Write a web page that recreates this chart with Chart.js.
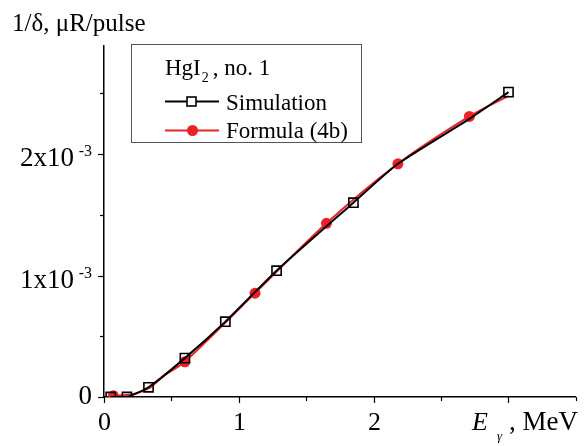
<!DOCTYPE html>
<html>
<head>
<meta charset="utf-8">
<script src="https://cdn.jsdelivr.net/npm/chart.js@4/dist/chart.umd.min.js"></script>
<style>
  html, body { margin: 0; background: #fff; }
  #wrap { width: 584px; height: 446px; position: relative; }
</style>
</head>
<body>
<div id="wrap"><canvas id="chart"></canvas></div>
<script>
// data (energy in MeV, 1/delta in uR/pulse)
const simEnergy = [0.05, 0.17, 0.33, 0.60, 0.90, 1.28, 1.85, 2.18, 2.71, 3.00];
const simValue = [0, 0, 0.08e-3, 0.32e-3, 0.62e-3, 1.04e-3, 1.60e-3, 1.92e-3, 2.29e-3, 2.51e-3];
const simMarker = [true, true, true, true, true, true, true, false, false, true];

const formulaEnergy = [0.07, 0.20, 0.33, 0.45, 0.60, 1.12, 1.65, 2.18, 2.71, 3.00];
const formulaValue = [0.01e-3, 0.02e-3, 0.07e-3, 0.18e-3, 0.29e-3, 0.855e-3, 1.43e-3, 1.92e-3, 2.31e-3, 2.48e-3];
const formulaMarker = [true, false, false, false, true, true, true, true, true, false];

const xTickValues = [0, 0.5, 1, 1.5, 2, 2.5, 3, 3.5];
const xTickLabels = ["0", "", "1", "", "2", "", "", ""];
const yTickValues = [0, 0.5e-3, 1e-3, 1.5e-3, 2e-3, 2.5e-3];
const yTickLabels = ["0", "", "1x10", "", "2x10", ""];
const yTickExponent = ["", "", "-3", "", "-3", ""];

const RED = "#ee1f26";
const SERIF = '"Liberation Serif", "Times New Roman", serif';

const toPoints = (xs, ys) => xs.map((x, i) => ({ x: x, y: ys[i] }));

// ticks, labels, axis titles and the framed legend
const decorations = {
  id: "decorations",
  afterDraw(chart) {
    const ctx = chart.ctx;
    const xs = chart.scales.x;
    const ys = chart.scales.y;
    const area = chart.chartArea;
    ctx.save();
    ctx.strokeStyle = "#000";
    ctx.lineWidth = 1.2;
    ctx.fillStyle = "#000";

    xTickValues.forEach((v, i) => {
      const px = Math.round(xs.getPixelForValue(v)) + 0.5;
      const len = xTickLabels[i] !== "" || v === 3 ? 6 : 4;
      ctx.beginPath();
      ctx.moveTo(px, area.bottom);
      ctx.lineTo(px, area.bottom + len);
      ctx.stroke();
      if (xTickLabels[i]) {
        ctx.font = "26px " + SERIF;
        ctx.textAlign = "center";
        ctx.textBaseline = "alphabetic";
        ctx.fillText(xTickLabels[i], px, 430);
      }
    });

    yTickValues.forEach((v, i) => {
      const py = Math.round(ys.getPixelForValue(v)) + 0.5;
      const len = yTickLabels[i] !== "" ? 6 : 4;
      ctx.beginPath();
      ctx.moveTo(area.left - len, py);
      ctx.lineTo(area.left, py);
      ctx.stroke();
      if (yTickLabels[i]) {
        ctx.textBaseline = "alphabetic";
        ctx.textAlign = "right";
        if (yTickExponent[i]) {
          ctx.font = "16px " + SERIF;
          ctx.fillText(yTickExponent[i], 92, py + 1);
          ctx.font = "27px " + SERIF;
          ctx.fillText(yTickLabels[i], 74, py + 11);
        } else {
          ctx.font = "27px " + SERIF;
          ctx.fillText(yTickLabels[i], 92, py + 6);
        }
      }
    });

    // axis titles
    ctx.textAlign = "left";
    ctx.font = "25px " + SERIF;
    ctx.fillText("1/\u03b4, \u03bcR/pulse", 12, 31);

    ctx.font = "italic 26px " + SERIF;
    ctx.fillText("E", 472, 430);
    ctx.font = "italic 13px " + SERIF;
    ctx.fillText("\u03b3", 497, 440);
    ctx.font = "27px " + SERIF;
    ctx.fillText(", MeV", 509, 430);

    // legend box
    ctx.strokeStyle = "#555";
    ctx.lineWidth = 1;
    ctx.strokeRect(131.5, 44.5, 230, 98);

    ctx.fillStyle = "#000";
    ctx.font = "23px " + SERIF;
    ctx.fillText("HgI", 165, 75);
    const hgW = ctx.measureText("HgI").width;
    ctx.font = "14px " + SERIF;
    ctx.fillText("2", 165 + hgW + 1, 82);
    ctx.font = "23px " + SERIF;
    ctx.fillText(", no. 1", 165 + hgW + 12, 75);

    // simulation entry
    ctx.strokeStyle = "#000";
    ctx.lineWidth = 2;
    ctx.beginPath();
    ctx.moveTo(165, 101.5);
    ctx.lineTo(219, 101.5);
    ctx.stroke();
    ctx.fillStyle = "#fff";
    ctx.fillRect(187, 97, 9, 9);
    ctx.lineWidth = 1.6;
    ctx.strokeRect(187, 97, 9, 9);
    ctx.fillStyle = "#000";
    ctx.fillText("Simulation", 226, 110);

    // formula entry
    ctx.strokeStyle = RED;
    ctx.lineWidth = 2;
    ctx.beginPath();
    ctx.moveTo(165, 130.5);
    ctx.lineTo(219, 130.5);
    ctx.stroke();
    ctx.fillStyle = RED;
    ctx.beginPath();
    ctx.arc(192.5, 130.5, 5.5, 0, Math.PI * 2);
    ctx.fill();
    ctx.fillStyle = "#000";
    ctx.fillText("Formula (4b)", 226, 138);

    ctx.restore();
  }
};

new Chart(document.getElementById("chart"), {
  type: "line",
  data: {
    datasets: [
      {
        label: "Simulation",
        data: toPoints(simEnergy, simValue),
        borderColor: "#000",
        borderWidth: 2,
        backgroundColor: "#fff",
        pointStyle: "rect",
        pointRadius: simMarker.map(m => (m ? 6.5 : 0)),
        pointBorderWidth: 1.6,
        pointBorderColor: "#000",
        pointBackgroundColor: "rgba(255,255,255,0)",
        tension: 0.2
      },
      {
        label: "Formula (4b)",
        data: toPoints(formulaEnergy, formulaValue),
        borderColor: RED,
        borderWidth: 2,
        backgroundColor: RED,
        pointStyle: "circle",
        pointRadius: formulaMarker.map(m => (m ? 5.5 : 0)),
        pointBorderWidth: 0,
        pointBackgroundColor: RED,
        tension: 0.3
      }
    ]
  },
  options: {
    responsive: true,
    maintainAspectRatio: false,
    animation: false,
    events: [],
    layout: { padding: { top: 46, right: 3, left: 0, bottom: 0 } },
    plugins: {
      legend: { display: false },
      tooltip: { enabled: false }
    },
    scales: {
      x: {
        type: "linear",
        min: 0,
        max: 3.5,
        grid: { display: false, drawTicks: false },
        border: { display: true, color: "#000", width: 1.5 },
        ticks: { display: false },
        afterFit: (s) => { s.height = 49; }
      },
      y: {
        type: "linear",
        min: 0,
        max: 2.89e-3,
        grid: { display: false, drawTicks: false },
        border: { display: true, color: "#000", width: 1.5 },
        ticks: { display: false },
        afterFit: (s) => { s.width = 104; }
      }
    }
  },
  plugins: [decorations]
});
</script>
</body>
</html>
